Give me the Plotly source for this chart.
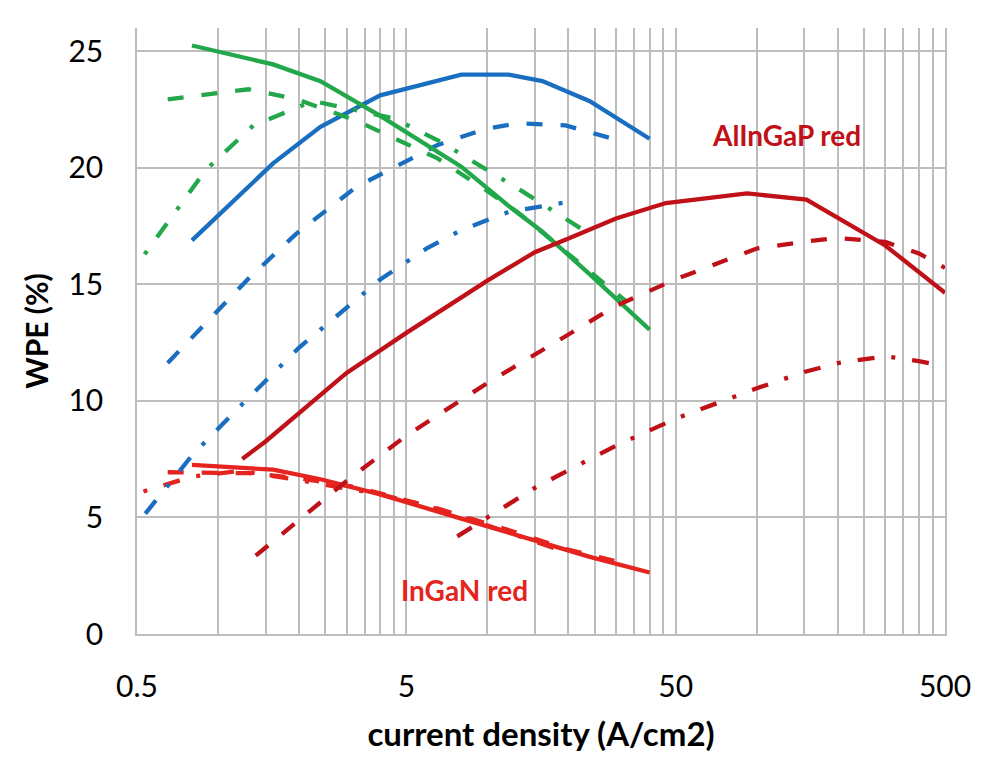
import numpy as np
import plotly.graph_objects as go

# ---------------- data ----------------
# current-density grids (A/cm2)
x_solid = [0.8, 1.6, 2.4, 4, 8, 12, 16, 24, 40]
x_dash = [0.65, 1.3, 1.95, 3.25, 6.5, 9.75, 13, 19.5, 32.5]
x_dashdot = [0.4, 0.8, 1.2, 2, 4, 6, 8, 12, 20]
x_green_dashdot = [0.45, 0.9, 1.35, 2.25, 4.5, 6.75, 9, 13.5, 22.5]

# WPE (%)
blue_solid = [16.89, 20.19, 21.76, 23.11, 24.0, 24.0, 23.72, 22.86, 21.25]
blue_dash = [11.63, 15.26, 17.17, 19.17, 20.97, 21.66, 21.91, 21.82, 21.1]
blue_dashdot = [3.32, 7.66, 9.74, 12.29, 15.21, 16.57, 17.33, 18.11, 18.54]

green_solid = [25.25, 24.44, 23.72, 22.23, 20.05, 18.36, 17.26, 15.43, 13.06]
green_dash = [22.94, 23.37, 22.95, 22.03, 20.42, 19.09, 18.08, 16.42, 14.3]
green_dashdot = [15.11, 19.91, 21.81, 22.87, 22.12, 21.1, 20.22, 18.99, 17.36]

ingan_solid = [7.26, 7.05, 6.64, 5.99, 4.95, 4.35, 3.94, 3.31, 2.64]
ingan_dash = [6.94, 6.9, 6.7, 6.3, 5.39, 4.78, 4.33, 3.65, 3.02]
ingan_dashdot = [5.69, 6.75, 7.0, 6.6, 5.99, 5.49, 5.04, 4.33, 3.48]

x_algap_solid = [1.23, 1.5, 3.0, 5, 10, 15, 20, 30, 46, 92, 153, 300, 500]
algap_solid = [7.51, 8.26, 11.2, 12.92, 15.16, 16.38, 16.97, 17.83, 18.49, 18.9, 18.64, 16.67, 14.64]
x_algap_dash = [1.38, 2, 3, 5, 10, 20, 30, 50, 100, 150, 200, 300, 400, 500]
algap_dash = [3.36, 4.92, 6.57, 8.51, 10.77, 12.85, 14.08, 15.22, 16.54, 16.83, 16.99, 16.82, 16.33, 15.71]
x_algap_dashdot = [7.73, 10, 15, 20, 30, 50, 100, 150, 200, 300, 400, 500]
algap_dashdot = [4.19, 5.01, 6.27, 7.03, 8.08, 9.24, 10.54, 11.24, 11.62, 11.92, 11.71, 11.48]

x_ticks = [0.5, 5, 50, 500]
x_tick_labels = ["0.5", "5", "50", "500"]
y_ticks = [0, 5, 10, 15, 20, 25]

label_algap = ("AlInGaP red", 128.6, 21.4)
label_ingan = ("InGaN red", 8.25, 1.9)

# ---------------- styles ----------------
BLUE = "#1A6EC0"
GREEN = "#22A84A"
DKRED = "#BF1117"
RED = "#E52420"
GRID = "#BDBDBD"
GW = 1.5
LW = 4.3
DASH = "16px,18px"
DASHDOT = "17px,17px,4px,17px"
FONT = "Lato"

fig = go.Figure()

def add(x, y, color, dash):
    fig.add_trace(go.Scatter(x=x, y=y, mode="lines",
                             line=dict(color=color, width=LW, dash=dash),
                             showlegend=False, hoverinfo="skip"))

# InGaN red
add(x_solid, ingan_solid, RED, "solid")
add(x_dash, ingan_dash, RED, DASH)
add(x_dashdot, ingan_dashdot, RED, DASHDOT)
# blue
add(x_solid, blue_solid, BLUE, "solid")
add(x_dash, blue_dash, BLUE, DASH)
add(x_dashdot, blue_dashdot, BLUE, DASHDOT)
# green
add(x_solid, green_solid, GREEN, "solid")
add(x_dash, green_dash, GREEN, DASH)
add(x_green_dashdot, green_dashdot, GREEN, DASHDOT)
# AlInGaP red
add(x_algap_solid, algap_solid, DKRED, "solid")
add(x_algap_dash, algap_dash, DKRED, DASH)
add(x_algap_dashdot, algap_dashdot, DKRED, DASHDOT)

minor_vals = [k * 0.5 * 10 ** n for n in range(3) for k in range(2, 10)]

fig.update_xaxes(
    type="log",
    range=[np.log10(0.5), np.log10(500)],
    tickmode="array", tickvals=x_ticks, ticktext=x_tick_labels,
    showgrid=True, gridcolor=GRID, gridwidth=GW,
    minor=dict(tickmode="array", tickvals=minor_vals, showgrid=True,
               gridcolor=GRID, gridwidth=GW, ticks=""),
    ticks="", ticklabelstandoff=25,
    tickfont=dict(family=FONT, size=30, color="#000000"),
    showline=True, linecolor=GRID, linewidth=GW, mirror=False,
    zeroline=False,
    title=dict(text="current density (A/cm2)", standoff=21,
               font=dict(family=FONT, size=33, color="#000000", weight="bold")),
)
fig.update_yaxes(
    range=[0, 26],
    tickmode="array", tickvals=y_ticks,
    showgrid=True, gridcolor=GRID, gridwidth=GW,
    ticks="", ticklabelstandoff=26,
    tickfont=dict(family=FONT, size=30, color="#000000"),
    showline=True, linecolor=GRID, linewidth=GW, mirror=True,
    zeroline=False,
    title=dict(text="WPE (%)", standoff=11,
               font=dict(family=FONT, size=30, color="#000000", weight="bold")),
)

for (txt, xv, yv), col in [(label_algap, DKRED), (label_ingan, RED)]:
    fig.add_annotation(x=np.log10(xv), y=yv, xref="x", yref="y", text=txt,
                       showarrow=False, xanchor="center", yanchor="middle",
                       font=dict(family=FONT, size=28, color=col, weight="bold"))

# page body has an 8px margin, so the figure is 8px smaller on each axis
fig.update_layout(
    width=982, height=760,
    margin=dict(l=129, r=45, t=20, b=134, autoexpand=False),
    paper_bgcolor="white", plot_bgcolor="white",
    showlegend=False,
)

fig.write_html("out.html")
